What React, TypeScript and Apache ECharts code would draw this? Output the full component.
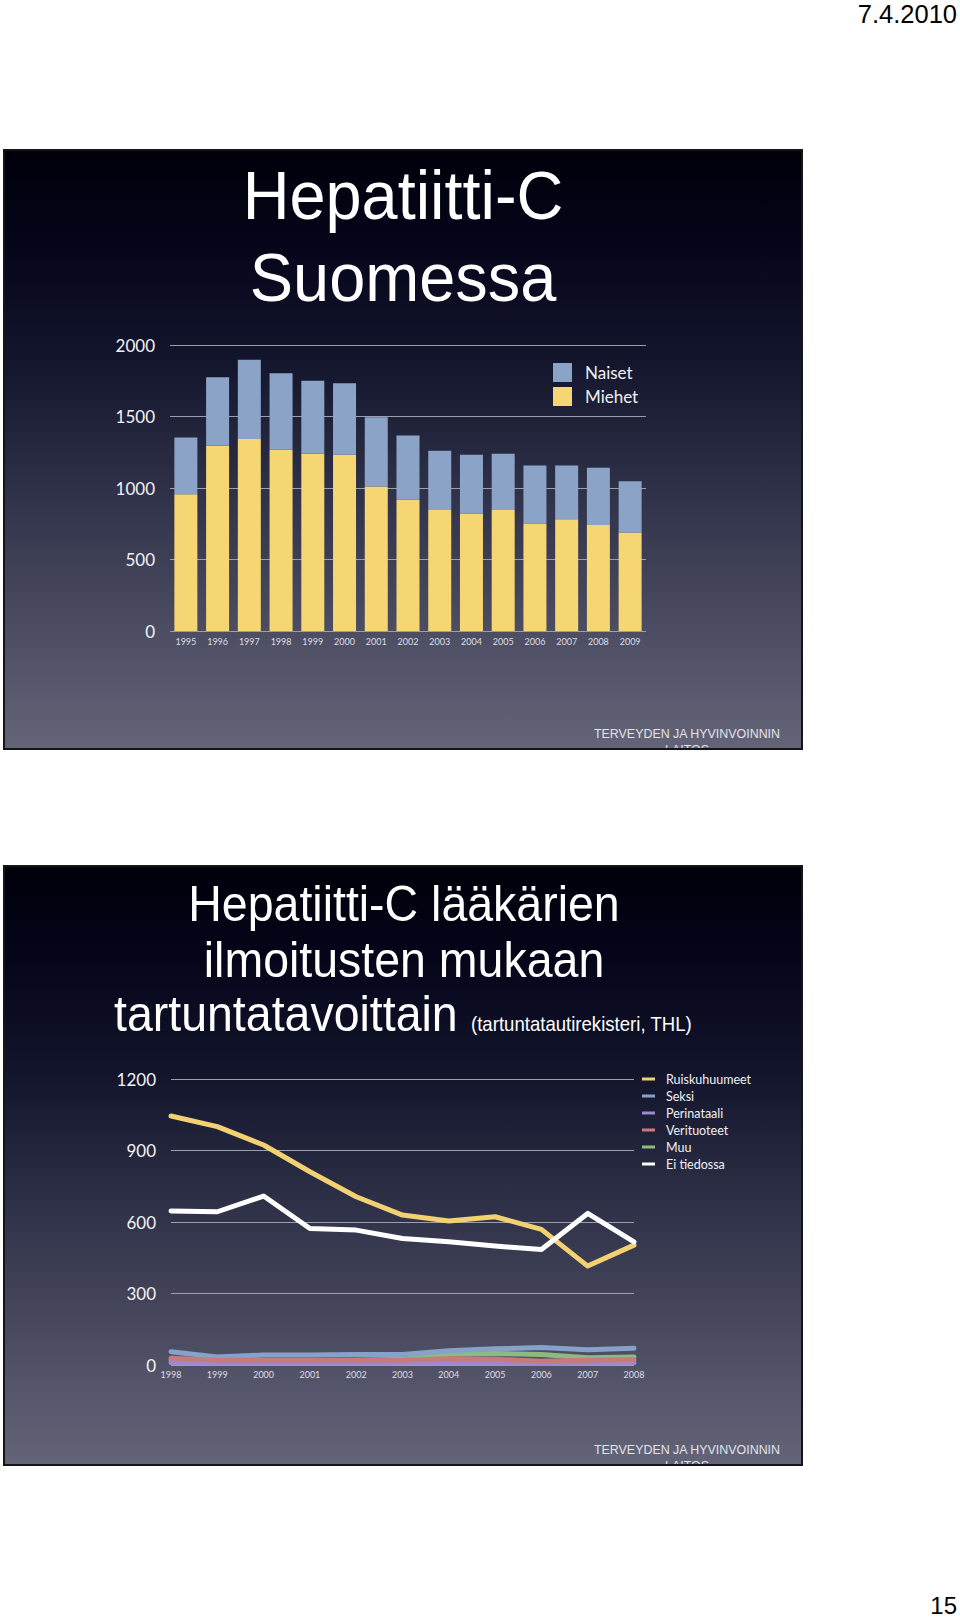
import React, { useEffect, useRef } from 'react';
import * as echarts from 'echarts';

// ---- Chart 1: Hepatiitti-C Suomessa ----
const years1 = ['1995', '1996', '1997', '1998', '1999', '2000', '2001', '2002', '2003', '2004', '2005', '2006', '2007', '2008', '2009'];
const miehet = [957, 1295, 1342, 1267, 1239, 1232, 1010, 917, 847, 821, 847, 751, 782, 742, 688];
const naiset = [397, 479, 555, 535, 511, 500, 484, 451, 413, 411, 392, 407, 376, 399, 360];
const yTicks1 = { min: 0, max: 2000, interval: 500 };

// ---- Chart 2: tartuntatavoittain ----
const years2 = ['1998', '1999', '2000', '2001', '2002', '2003', '2004', '2005', '2006', '2007', '2008'];
const ruiskuhuumeet = [1045, 1000, 923, 811, 706, 629, 604, 622, 569, 415, 503];
const seksi = [56, 34, 42, 42, 44, 44, 60, 68, 73, 64, 70];
const perinataali = [10, 8, 8, 8, 8, 9, 9, 8, 6, 8, 9];
const verituoteet = [28, 20, 20, 20, 20, 20, 26, 24, 16, 20, 22];
const muu = [20, 18, 18, 18, 20, 24, 45, 48, 44, 30, 34];
const eiTiedossa = [646, 643, 709, 573, 566, 531, 517, 499, 485, 636, 517];
const yTicks2 = { min: 0, max: 1200, interval: 300 };

const title1 = ['Hepatiitti-C', 'Suomessa'];
const title2 = ['Hepatiitti-C lääkärien', 'ilmoitusten mukaan', 'tartuntatavoittain'];
const source2 = '(tartuntatautirekisteri, THL)';
const footer = ['TERVEYDEN JA HYVINVOINNIN', 'LAITOS'];

const slideFill = {
  type: 'linear', x: 0, y: 0, x2: 0, y2: 1,
  colorStops: [
    { offset: 0, color: '#00000a' },
    { offset: 0.15, color: '#040519' },
    { offset: 0.35, color: '#13152d' },
    { offset: 0.6, color: '#33354c' },
    { offset: 0.85, color: '#525368' },
    { offset: 1, color: '#646478' },
  ],
};

const HF = '"Liberation Sans", Arial, Helvetica, sans-serif';
const GF = 'Lato, "Open Sans", sans-serif';

function slideGraphics(top: number, titleEls: any[]) {
  return [
    { type: 'rect', z: -10, shape: { x: 4, y: top, width: 798, height: 599 }, style: { fill: slideFill as any } },
    ...titleEls,
    { type: 'text', z: 40, x: 687, y: top + 583, scaleX: 0.92, style: { text: footer[0], fontFamily: HF, fontSize: 13.5, fill: '#e2e2ea', align: 'center', verticalAlign: 'middle' } },
    { type: 'text', z: 40, x: 687, y: top + 599, scaleX: 0.92, style: { text: footer[1], fontFamily: HF, fontSize: 13.5, fill: '#e2e2ea', align: 'center', verticalAlign: 'middle' } },
    { type: 'rect', z: 50, shape: { x: 0, y: top + 600, width: 960, height: 40 }, style: { fill: '#ffffff' } },
    { type: 'rect', z: 51, shape: { x: 4, y: top, width: 798, height: 599 }, style: { fill: 'none', stroke: '#151515', lineWidth: 2 } },
  ];
}

export default function App() {
  const ref = useRef<HTMLDivElement>(null);
  useEffect(() => {
    const chart = echarts.init(ref.current as HTMLDivElement, null, { renderer: 'svg', width: 960, height: 1618 });

    const lineSeries = (name: string, data: number[], color: string, z = 2, width = 5) => ({
      name, type: 'line', xAxisIndex: 1, yAxisIndex: 1, data, symbol: 'none', z,
      lineStyle: { color, width, join: 'round', cap: 'round' }, itemStyle: { color },
    });

    const axisLabelY = { color: '#f2f2f4', fontSize: 17, fontFamily: GF, margin: 15, formatter: (v: number) => String(v) };
    const splitLine = { show: true, lineStyle: { color: '#9e9eac', width: 1 } };

    const option: any = {
      animation: false,
      backgroundColor: '#ffffff',
      grid: [
        { left: 170, top: 345, width: 476, height: 286 },
        { left: 171, top: 1079, width: 463, height: 286 },
      ],
      xAxis: [
        { type: 'category', gridIndex: 0, data: years1, axisLine: { show: false }, axisTick: { show: false },
          axisLabel: { color: '#dedee6', fontSize: 9, fontFamily: GF, margin: 6, interval: 0 } },
        { type: 'category', gridIndex: 1, data: years2, boundaryGap: false, axisLine: { show: false }, axisTick: { show: false },
          axisLabel: { color: '#dedee6', fontSize: 9, fontFamily: GF, margin: 5, interval: 0 } },
      ],
      yAxis: [
        { type: 'value', gridIndex: 0, ...yTicks1, axisLine: { show: false }, axisTick: { show: false }, axisLabel: axisLabelY, splitLine },
        { type: 'value', gridIndex: 1, ...yTicks2, axisLine: { show: false }, axisTick: { show: false }, axisLabel: axisLabelY, splitLine },
      ],
      legend: [
        { data: ['Naiset', 'Miehet'], orient: 'vertical', left: 548, top: 358, itemWidth: 19, itemHeight: 19, itemGap: 5,
          icon: 'rect', selectedMode: false,
          textStyle: { color: '#f0f0f2', fontSize: 17, fontFamily: GF, padding: [0, 0, 0, 8] } },
        { data: ['Ruiskuhuumeet', 'Seksi', 'Perinataali', 'Verituoteet', 'Muu', 'Ei tiedossa'], orient: 'vertical',
          left: 637, top: 1067, itemWidth: 13, itemHeight: 3, itemGap: 3, icon: 'rect', selectedMode: false,
          textStyle: { color: '#f0f0f2', fontSize: 12.5, lineHeight: 14, fontFamily: GF, padding: [0, 0, 0, 6] } },
      ],
      series: [
        { name: 'Miehet', type: 'bar', stack: 'total', xAxisIndex: 0, yAxisIndex: 0, data: miehet, barWidth: 23,
          itemStyle: { color: '#f5d673' } },
        { name: 'Naiset', type: 'bar', stack: 'total', xAxisIndex: 0, yAxisIndex: 0, data: naiset, barWidth: 23,
          itemStyle: { color: '#8ca3c8' } },
        lineSeries('Ruiskuhuumeet', ruiskuhuumeet, '#f1d171', 4),
        lineSeries('Seksi', seksi, '#86a2c9', 3),
        lineSeries('Perinataali', perinataali, '#9b8ad0', 3),
        lineSeries('Verituoteet', verituoteet, '#c77a7e', 3),
        lineSeries('Muu', muu, '#8dba7e', 2),
        lineSeries('Ei tiedossa', eiTiedossa, '#ffffff', 5),
      ],
      graphic: {
        elements: [
          ...slideGraphics(150, [
            { type: 'text', z: 10, x: 403, y: 195, scaleX: 0.94, style: { text: title1[0], fontFamily: HF, fontSize: 69, fill: '#ffffff', align: 'center', verticalAlign: 'middle' } },
            { type: 'text', z: 10, x: 403, y: 277, scaleX: 0.94, style: { text: title1[1], fontFamily: HF, fontSize: 69, fill: '#ffffff', align: 'center', verticalAlign: 'middle' } },
          ]),
          ...slideGraphics(866, [
            { type: 'text', z: 10, x: 404, y: 903, scaleX: 0.93, style: { text: title2[0], fontFamily: HF, fontSize: 50, fill: '#ffffff', align: 'center', verticalAlign: 'middle' } },
            { type: 'text', z: 10, x: 404, y: 959, scaleX: 0.93, style: { text: title2[1], fontFamily: HF, fontSize: 50, fill: '#ffffff', align: 'center', verticalAlign: 'middle' } },
            { type: 'text', z: 10, x: 114, y: 1013, scaleX: 0.93, style: { text: title2[2], fontFamily: HF, fontSize: 50, fill: '#ffffff', align: 'left', verticalAlign: 'middle' } },
            { type: 'text', z: 10, x: 471, y: 1024, scaleX: 0.93, style: { text: source2, fontFamily: HF, fontSize: 20, fill: '#ffffff', align: 'left', verticalAlign: 'middle' } },
          ]),
          { type: 'text', z: 60, x: 957, y: 14, style: { text: '7.4.2010', fontFamily: HF, fontSize: 25.5, fill: '#000000', align: 'right', verticalAlign: 'middle' } },
          { type: 'text', z: 60, x: 957, y: 1605, style: { text: '15', fontFamily: HF, fontSize: 24, fill: '#000000', align: 'right', verticalAlign: 'middle' } },
        ],
      },
    };

    chart.setOption(option);
    return () => chart.dispose();
  }, []);

  return <div ref={ref} style={{ position: 'absolute', left: 0, top: 0, width: 960, height: 1618 }} />;
}
